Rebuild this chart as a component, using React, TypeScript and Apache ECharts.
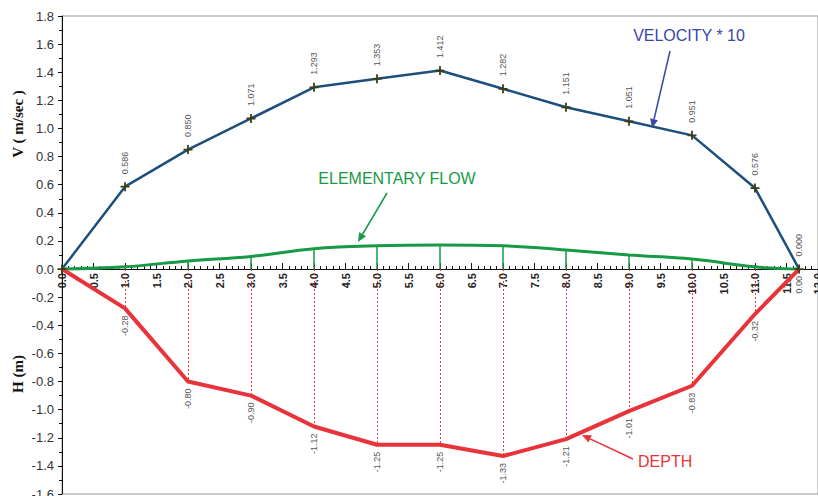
import React, { useEffect, useRef } from "react";
import * as echarts from "echarts";

const stations = [0, 1, 2, 3, 4, 5, 6, 7, 8, 9, 10, 11, 11.7];
const velocity = [0, 0.586, 0.85, 1.071, 1.293, 1.353, 1.412, 1.282, 1.151, 1.051, 0.951, 0.576, 0];
const depth = [0, -0.28, -0.8, -0.9, -1.12, -1.25, -1.25, -1.33, -1.21, -1.01, -0.83, -0.32, 0];
const flow = [0, 0.016, 0.058, 0.09, 0.145, 0.166, 0.171, 0.166, 0.135, 0.1, 0.071, 0.016, 0];

const Y_MIN = -1.6;
const Y_MAX = 1.8;

const BLUE = "#1d4f7c";
const RED = "#e8333a";
const GREEN = "#179a45";
const ANN_BLUE = "#3a45a8";

function arrow(x1: number, y1: number, x2: number, y2: number, color: string) {
  const dx = x2 - x1;
  const dy = y2 - y1;
  const len = Math.sqrt(dx * dx + dy * dy);
  const ux = dx / len;
  const uy = dy / len;
  const hl = 9;
  const hw = 4;
  const bx = x2 - ux * hl;
  const by = y2 - uy * hl;
  return [
    {
      type: "line",
      shape: { x1, y1, x2: bx, y2: by },
      style: { stroke: color, lineWidth: 1.5 },
      z: 100,
    },
    {
      type: "polygon",
      shape: {
        points: [
          [x2, y2],
          [bx - uy * hw, by + ux * hw],
          [bx + uy * hw, by - ux * hw],
        ],
      },
      style: { fill: color },
      z: 100,
    },
  ];
}

export default function App() {
  const ref = useRef<HTMLDivElement>(null);
  useEffect(() => {
    if (!ref.current) return;
    const chart = echarts.init(ref.current, undefined, { renderer: "svg" });
    const velData = stations.map((x, i) => [x, velocity[i]]);
    const depData = stations.map((x, i) => [x, depth[i]]);
    const flowData = stations.map((x, i) => [x, flow[i]]);
    const inner = stations.map((x, i) => i).filter((i) => i > 0 && i < stations.length - 1);
    const dropLines = inner.map((i) => [
      { coord: [stations[i], 0] },
      { coord: [stations[i], depth[i]] },
    ]);
    const flowLines = inner.map((i) => [
      { coord: [stations[i], 0] },
      { coord: [stations[i], flow[i]] },
    ]);
    const cross = "path://M4,0h2v4h4v2h-4v4h-2v-4h-4v-2h4z";
    chart.setOption({
      animation: false,
      grid: {
        left: 62,
        top: 16,
        right: 0,
        bottom: 2,
        containLabel: false,
        outerBoundsMode: "none",
        show: true,
        borderColor: "#999",
        borderWidth: 1,
        backgroundColor: "transparent",
      },
      xAxis: {
        type: "value",
        min: 0,
        max: 12,
        interval: 0.5,
        position: "bottom",
        offset: 0,
        axisLine: { onZero: false, lineStyle: { color: "#111", width: 1 } },
        axisTick: { inside: true, length: 6, lineStyle: { color: "#111" } },
        minorTick: { show: true, splitNumber: 5, length: 3, lineStyle: { color: "#111" } },
        splitLine: { show: false },
        axisLabel: {
          rotate: 90,
          margin: 4,
          color: "#222",
          fontSize: 11,
          fontWeight: "bold",
          fontFamily: "Liberation Sans, Arial",
          formatter: (v: number) => v.toFixed(1),
        },
      },
      yAxis: {
        type: "value",
        min: Y_MIN,
        max: Y_MAX,
        interval: 0.2,
        axisLine: { show: true, onZero: false, lineStyle: { color: "#111", width: 1 } },
        axisTick: { show: true, length: 4, lineStyle: { color: "#111" } },
        minorTick: { show: true, splitNumber: 2, length: 3, lineStyle: { color: "#111" } },
        splitLine: { show: false },
        axisLabel: {
          margin: 8,
          color: "#333",
          fontSize: 13,
          fontFamily: "Liberation Sans, Arial",
          formatter: (v: number) => v.toFixed(1),
        },
      },
      series: [
        {
          type: "line",
          name: "flow",
          data: flowData,
          smooth: 0.4,
          symbol: "none",
          lineStyle: { color: GREEN, width: 3 },
          z: 2,
          markLine: {
            silent: true,
            symbol: "none",
            label: { show: false },
            lineStyle: { color: GREEN, width: 1.5, type: "solid" },
            data: flowLines,
          },
        },
        {
          type: "line",
          name: "depth",
          data: depData,
          symbol: "circle",
          symbolSize: 2,
          itemStyle: { color: RED },
          lineStyle: { color: RED, width: 4 },
          z: 3,
          label: {
            show: true,
            position: "bottom",
            distance: 6,
            rotate: 90,
            align: "right",
            verticalAlign: "middle",
            color: "#555",
            fontSize: 9,
            fontFamily: "Liberation Sans, Arial",
            formatter: (p: any) => (p.dataIndex === 0 ? "" : p.value[1].toFixed(2)),
          },
          markLine: {
            silent: true,
            symbol: "none",
            label: { show: false },
            lineStyle: { color: RED, width: 1, type: [2, 2] },
            data: dropLines,
          },
        },
        {
          type: "line",
          name: "velocity",
          data: velData,
          symbol: cross,
          symbolSize: 9,
          itemStyle: { color: "#3d3d14" },
          lineStyle: { color: BLUE, width: 2.5 },
          z: 4,
          label: {
            show: true,
            position: "top",
            distance: 8,
            rotate: 90,
            align: "left",
            verticalAlign: "middle",
            color: "#555",
            fontSize: 9,
            fontFamily: "Liberation Sans, Arial",
            formatter: (p: any) => (p.dataIndex === 0 ? "" : p.value[1].toFixed(3)),
          },
        },
      ],
      graphic: [
        {
          type: "text",
          x: 18,
          y: 124,
          rotation: Math.PI / 2,
          style: {
            text: "V ( m/sec )",
            font: 'bold 15px "Liberation Serif", serif',
            fill: "#111",
            textAlign: "center",
            textVerticalAlign: "middle",
          },
        },
        {
          type: "text",
          x: 18,
          y: 374,
          rotation: Math.PI / 2,
          style: {
            text: "H (m)",
            font: 'bold 15px "Liberation Serif", serif',
            fill: "#111",
            textAlign: "center",
            textVerticalAlign: "middle",
          },
        },
        {
          type: "text",
          x: 689,
          y: 35,
          style: {
            text: "VELOCITY * 10",
            font: '16px "Liberation Sans", Arial',
            fill: ANN_BLUE,
            textAlign: "center",
            textVerticalAlign: "middle",
          },
        },
        ...arrow(670, 51, 652, 128, ANN_BLUE),
        {
          type: "text",
          x: 397,
          y: 178,
          style: {
            text: "ELEMENTARY FLOW",
            font: '16px "Liberation Sans", Arial',
            fill: GREEN,
            textAlign: "center",
            textVerticalAlign: "middle",
          },
        },
        ...arrow(387, 193, 358, 242, GREEN),
        {
          type: "text",
          x: 638,
          y: 461,
          style: {
            text: "DEPTH",
            font: '16px "Liberation Sans", Arial',
            fill: RED,
            textAlign: "left",
            textVerticalAlign: "middle",
          },
        },
        ...arrow(633, 459, 582, 435, RED),
      ],
    });
    // Move the x axis (line, ticks and labels) up to the y = 0 level using the library's own scale
    const zeroY = chart.convertToPixel({ gridIndex: 0 }, [0, 0])[1];
    const bottomY = chart.convertToPixel({ gridIndex: 0 }, [0, Y_MIN])[1];
    chart.setOption({ xAxis: { offset: zeroY - bottomY } });
    return () => chart.dispose();
  }, []);
  return (
    <div
      ref={ref}
      style={{ position: "fixed", left: 0, top: 0, width: 818, height: 496, background: "#fff" }}
    />
  );
}
